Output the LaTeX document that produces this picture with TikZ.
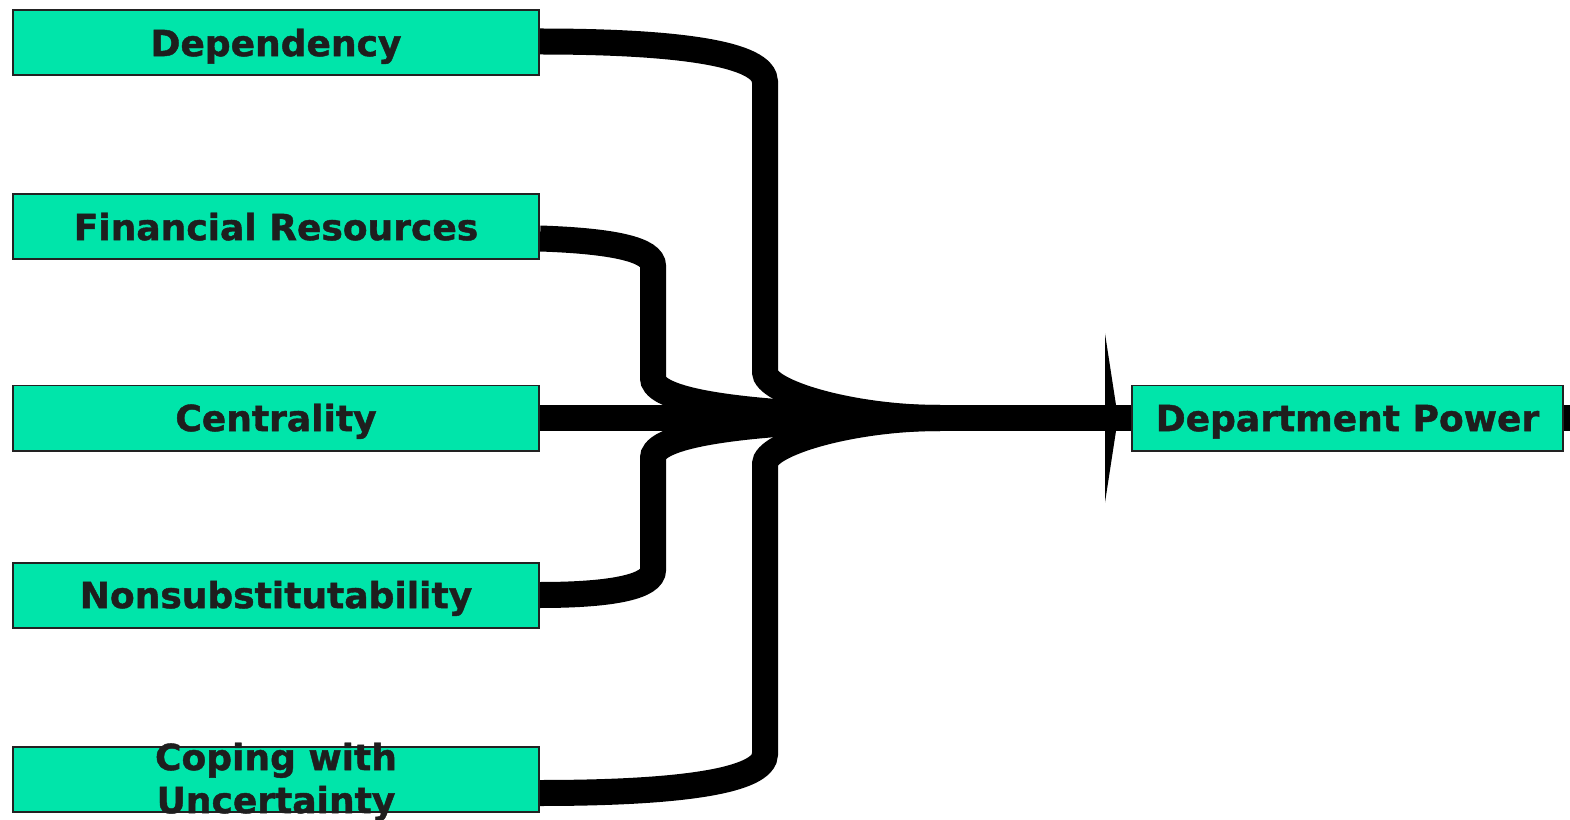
\documentclass[tikz,border=0pt]{standalone}
\usepackage{fontspec}
\setmainfont{DejaVu Sans}[BoldFeatures={FakeBold=1.2}]
\usepackage{tikz}
\usetikzlibrary{positioning,arrows.meta,backgrounds}
\usepackage{xcolor}
\definecolor{mint}{HTML}{00E5AA}
\definecolor{inkline}{HTML}{222222}
\definecolor{inktext}{HTML}{1E1E1E}

\begin{document}
\begin{tikzpicture}[
    every node/.style={font=\fontsize{20.5pt}{24.5pt}\selectfont\bfseries},
    factor/.style={rectangle, draw=inkline, line width=0.04cm, fill=mint, text=inktext, minimum width=10.52cm, minimum height=1.3cm, inner sep=0pt, text height=14.94pt, text depth=0pt},
    result/.style={factor, minimum width=8.62cm},
    link/.style={line width=0.52cm, black, line cap=butt},
    tip/.style={-{Triangle[length=0.26cm, width=3.38cm, line width=0pt]}},
]
\useasboundingbox (0,0) rectangle (31.4,-16.4);

% Inputs
\node[factor] (dep) at (5.52,-0.86) {Dependency};
\node[factor, below=2.34cm of dep] (fin) {Financial Resources};
\node[factor, below=2.48cm of fin] (cent) {Centrality};
\node[factor, below=2.2cm of cent] (nonsub) {Nonsubstitutability};
\node[factor, below=2.34cm of nonsub] (cope) {\smash{\begin{tabular}{@{}c@{}}Coping with\\Uncertainty\end{tabular}}};

% Output
\node[result, right=11.82cm of cent] (power) {Department Power};

\coordinate (hub) at ([xshift=8cm]cent.east);

% Links (behind the boxes)
\begin{pgfonlayer}{background}
\draw[link] ([yshift=0.03cm]dep.east) .. controls (13.6,-0.83) and (15.3,-1.08) .. (15.3,-1.64) -- (15.3,-7.44) .. controls (15.3,-7.84) and (17.0,-8.36) .. (hub);
\draw[link] ([yshift=-0.23cm]fin.east) .. controls (12.3,-4.82) and (13.06,-5.0) .. (13.06,-5.32) -- (13.06,-7.56) .. controls (13.06,-7.9) and (14.0,-8.32) .. (hub);
\draw[link] (cent.east) -- ([xshift=0.3cm]power.east);
\draw[link] (nonsub.east) .. controls (12.3,-11.9) and (13.06,-11.72) .. (13.06,-11.4) -- (13.06,-9.16) .. controls (13.06,-8.82) and (14.0,-8.4) .. (hub);
\draw[link] ([yshift=-0.28cm]cope.east) .. controls (13.6,-15.86) and (15.3,-15.62) .. (15.3,-15.08) -- (15.3,-9.28) .. controls (15.3,-8.88) and (17.0,-8.36) .. (hub);

% Arrow into the output
\draw[link, tip] (hub) -- ([xshift=-0.26cm]power.west);
\end{pgfonlayer}

\end{tikzpicture}
\end{document}
